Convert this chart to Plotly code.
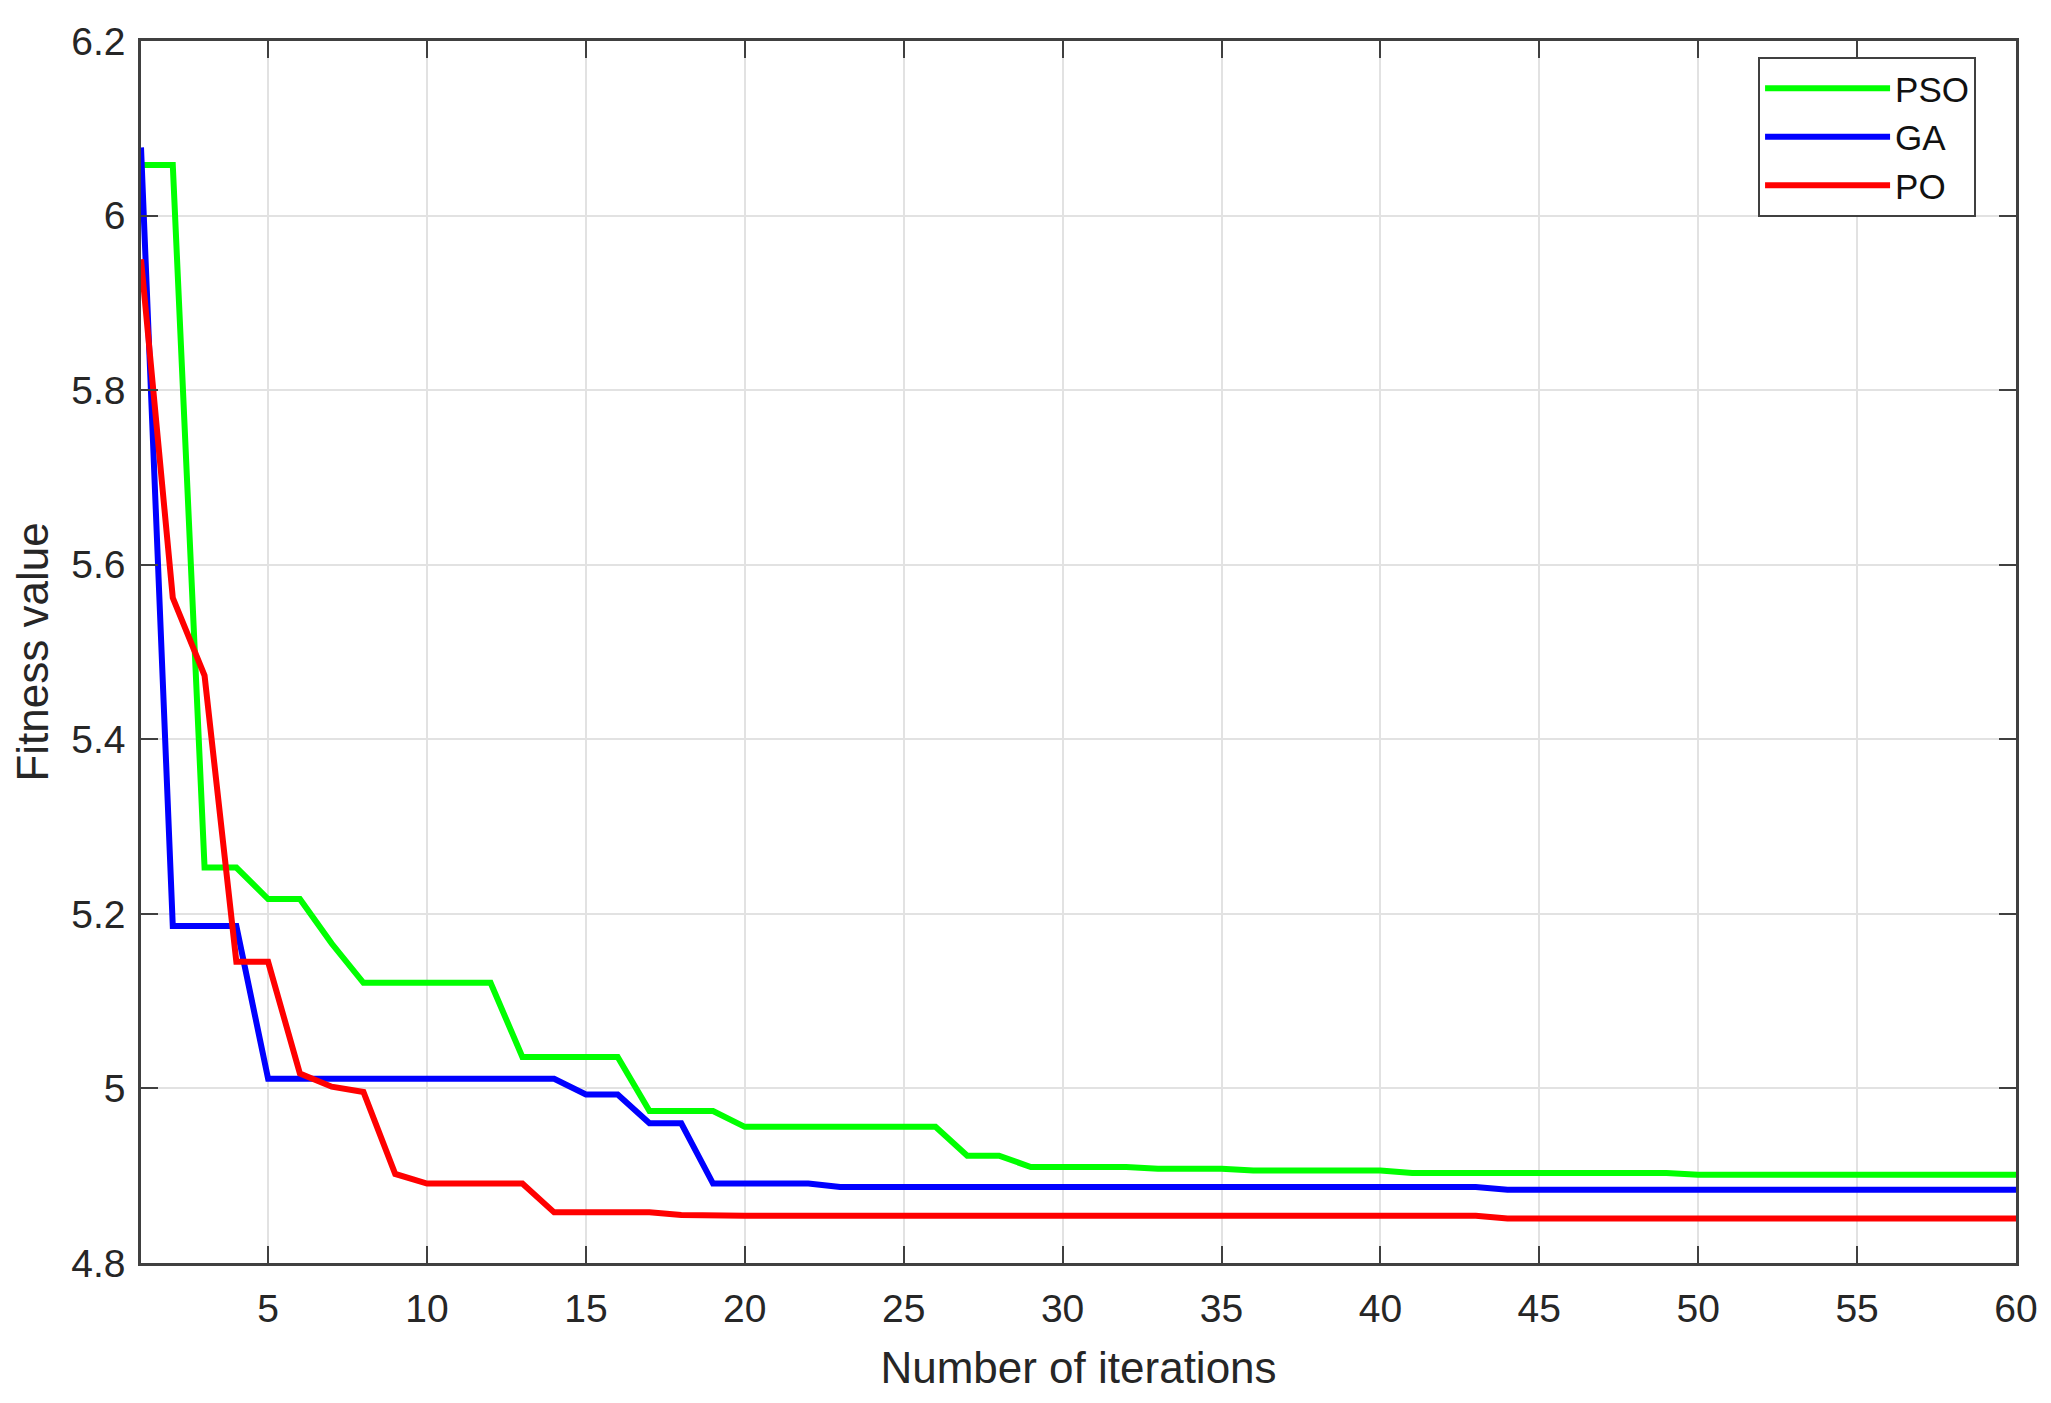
import plotly.graph_objects as go

# iteration index
iterations = list(range(1, 61))

# fitness values
pso = [6.058, 6.058, 5.253, 5.253, 5.217, 5.217, 5.166, 5.121, 5.121, 5.121,
       5.121, 5.121, 5.036, 5.036, 5.036, 5.036, 4.974, 4.974, 4.974, 4.956,
       4.956, 4.956, 4.956, 4.956, 4.956, 4.956, 4.923, 4.923, 4.910, 4.910,
       4.910, 4.910, 4.908, 4.908, 4.908, 4.906, 4.906, 4.906, 4.906, 4.906,
       4.903, 4.903, 4.903, 4.903, 4.903, 4.903, 4.903, 4.903, 4.903, 4.901,
       4.901, 4.901, 4.901, 4.901, 4.901, 4.901, 4.901, 4.901, 4.901, 4.901]
ga = [6.078, 5.186, 5.186, 5.186, 5.011, 5.011, 5.011, 5.011, 5.011, 5.011,
      5.011, 5.011, 5.011, 5.011, 4.993, 4.993, 4.960, 4.960, 4.891, 4.891,
      4.891, 4.891, 4.887, 4.887, 4.887, 4.887, 4.887, 4.887, 4.887, 4.887,
      4.887, 4.887, 4.887, 4.887, 4.887, 4.887, 4.887, 4.887, 4.887, 4.887,
      4.887, 4.887, 4.887, 4.884, 4.884, 4.884, 4.884, 4.884, 4.884, 4.884,
      4.884, 4.884, 4.884, 4.884, 4.884, 4.884, 4.884, 4.884, 4.884, 4.884]
po = [5.950, 5.562, 5.473, 5.145, 5.145, 5.017, 5.002, 4.996, 4.902, 4.891,
      4.891, 4.891, 4.891, 4.858, 4.858, 4.858, 4.858, 4.855, 4.854, 4.854,
      4.854, 4.854, 4.854, 4.854, 4.854, 4.854, 4.854, 4.854, 4.854, 4.854,
      4.854, 4.854, 4.854, 4.854, 4.854, 4.854, 4.854, 4.854, 4.854, 4.854,
      4.854, 4.854, 4.854, 4.851, 4.851, 4.851, 4.851, 4.851, 4.851, 4.851,
      4.851, 4.851, 4.851, 4.851, 4.851, 4.851, 4.851, 4.851, 4.851, 4.851]

x_ticks = [5, 10, 15, 20, 25, 30, 35, 40, 45, 50, 55, 60]
y_ticks = [4.8, 5.0, 5.2, 5.4, 5.6, 5.8, 6.0, 6.2]
y_tick_labels = ["4.8", "5", "5.2", "5.4", "5.6", "5.8", "6", "6.2"]

series = [
    ("PSO", pso, "#00ff00"),
    ("GA", ga, "#0000ff"),
    ("PO", po, "#ff0000"),
]

fig = go.Figure()
for name, vals, color in series:
    fig.add_trace(go.Scatter(
        x=iterations,
        y=vals,
        mode="lines",
        name=name,
        line=dict(color=color, width=6),
    ))

axis_color = "#404040"
grid_color = "#e2e2e2"

fig.update_layout(
    width=2051,
    height=1403,
    margin=dict(l=133, r=43, t=28, b=148),
    paper_bgcolor="white",
    plot_bgcolor="white",
    font=dict(family="Liberation Sans, Arial, sans-serif", size=39, color="#262626"),
    showlegend=True,
    legend=dict(
        x=0.9787,
        y=0.9870,
        xanchor="right",
        yanchor="top",
        bgcolor="white",
        bordercolor=axis_color,
        borderwidth=2,
        font=dict(size=35, color="#111111"),
        itemwidth=125,
        tracegroupgap=0,
    ),
    xaxis=dict(
        range=[1, 60],
        tickvals=x_ticks,
        ticks="inside",
        ticklen=17,
        tickwidth=2,
        tickcolor=axis_color,
        showline=True,
        linecolor=axis_color,
        linewidth=2.5,
        mirror="ticks",
        showgrid=True,
        gridcolor=grid_color,
        gridwidth=1.5,
        zeroline=False,
        ticklabelstandoff=9,
        title=dict(text="Number of iterations", font=dict(size=44), standoff=24),
    ),
    yaxis=dict(
        range=[4.8, 6.2],
        tickvals=y_ticks,
        ticktext=y_tick_labels,
        ticks="inside",
        ticklen=17,
        tickwidth=2,
        tickcolor=axis_color,
        showline=True,
        linecolor=axis_color,
        linewidth=2.5,
        mirror="ticks",
        showgrid=True,
        gridcolor=grid_color,
        gridwidth=1.5,
        zeroline=False,
        ticklabelstandoff=5,
        title=dict(text="Fitness value", font=dict(size=44), standoff=14),
    ),
)

fig.write_html("out.html")
